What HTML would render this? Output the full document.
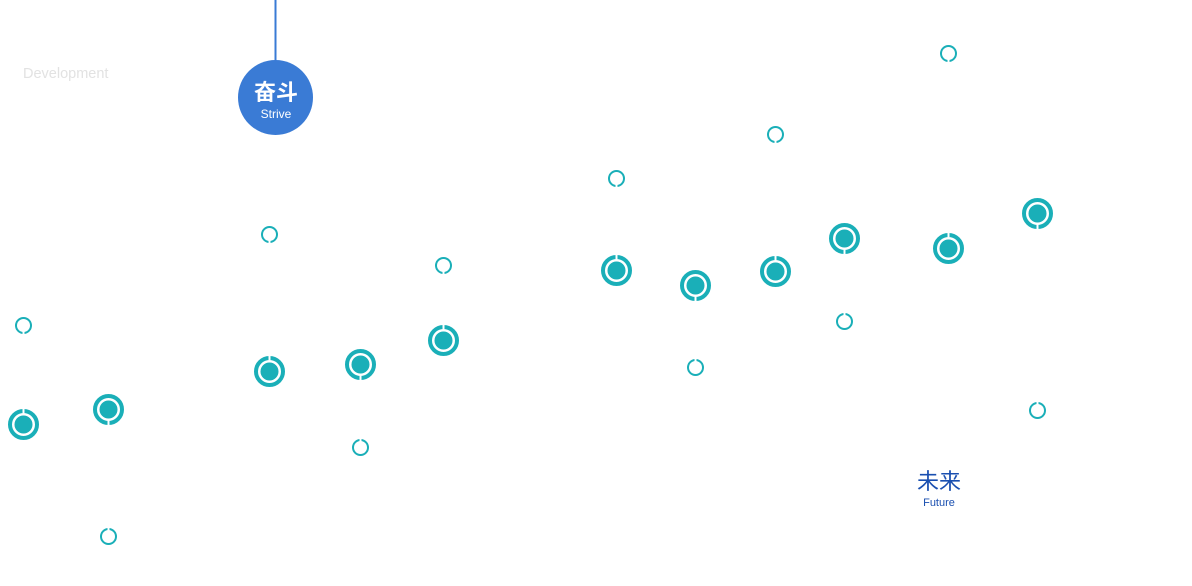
<!DOCTYPE html>
<html><head><meta charset="utf-8"><style>
body{margin:0;width:1192px;height:586px;background:#fff;overflow:hidden;position:relative;font-family:"Liberation Sans","Noto Sans CJK SC",sans-serif}
</style></head><body>
<svg width="1192" height="586" style="position:absolute;left:0;top:0">
<line x1="275.5" y1="0" x2="275.5" y2="62" stroke="#3a7bd5" stroke-width="2"/>
<circle cx="275.5" cy="97.5" r="37.5" fill="#3a7bd5"/>
<text x="276" y="100" font-size="22" font-weight="bold" fill="#fff" text-anchor="middle" font-family="Noto Sans CJK SC, sans-serif">奋斗</text>
<text x="276" y="118" font-size="12" fill="#fff" text-anchor="middle" font-family="Liberation Sans, sans-serif">Strive</text>
<text x="23" y="78" font-size="14.5" fill="#e2e2e2" font-family="Liberation Sans, sans-serif">Development</text>
<text x="939" y="489" font-size="22" fill="#1a4fb0" text-anchor="middle" font-family="Noto Sans CJK SC, sans-serif">未来</text>
<text x="939" y="506" font-size="11" fill="#1a4fb0" text-anchor="middle" font-family="Liberation Sans, sans-serif">Future</text>
<g id="c" transform="translate(0.5,0.5)"></g>
</svg>
<script>
var g=document.getElementById('c'),ns='http://www.w3.org/2000/svg';
function el(t,a){var e=document.createElementNS(ns,t);for(var k in a)e.setAttribute(k,a[k]);g.appendChild(e);}
var big=[[23,424,-1],[108,409,1],[269,371,-1],[360,364,1],[443,340,-1],[616,270,-1],[695,285,1],[775,271,-1],[844,238,1],[948,248,-1],[1037,213,1]];
big.forEach(function(b){el('circle',{cx:b[0],cy:b[1],r:13.5,fill:'none',stroke:'#1aafb8','stroke-width':4});el('circle',{cx:b[0],cy:b[1],r:9,fill:'#1aafb8'});el('rect',{x:b[0]-1,y:b[2]<0?b[1]-16:b[1]+11,width:2,height:5,fill:'#fff'});});
var sm=[[948,53,1],[775,134,1],[616,178,1],[269,234,1],[443,265,1],[23,325,1],[844,321,-1],[695,367,-1],[1037,410,-1],[360,447,-1],[108,536,-1]];
sm.forEach(function(s){el('circle',{cx:s[0],cy:s[1],r:7.5,fill:'none',stroke:'#1aafb8','stroke-width':2});el('rect',{x:s[0]-1,y:s[2]>0?s[1]+5:s[1]-10,width:2,height:5,fill:'#fff'});});
</script>
</body></html>
